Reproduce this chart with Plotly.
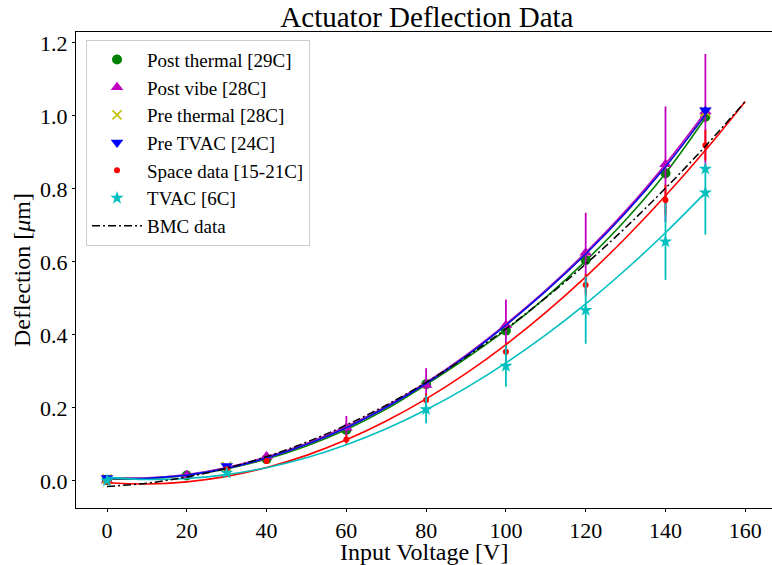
import plotly.graph_objects as go

# ---------------- data ----------------
# measured points
pt_x = [0, 20, 40, 60, 80, 100, 120, 140, 150]
pt_y = [0.003, 0.015, 0.060, 0.140, 0.265, 0.412, 0.605, 0.843, 0.998]
pt_err = [0.003, 0.004, 0.005, 0.006, 0.008, 0.010, 0.012, 0.015, 0.015]

pv_x = [0, 20, 40, 60, 80, 100, 120, 140, 150]
pv_y = [0.001, 0.016, 0.067, 0.146, 0.263, 0.427, 0.625, 0.868, 1.012]
pv_err = [0.003, 0.006, 0.012, 0.032, 0.046, 0.070, 0.110, 0.158, 0.158]

pth_x = [0, 30, 150]
pth_y = [0.006, 0.040, 1.012]
pth_err = [0.003, 0.004, 0.010]

ptv_x = [0, 30, 150]
ptv_y = [0.008, 0.041, 1.016]
ptv_err = [0.004, 0.005, 0.010]

sp_x = [0, 30, 40, 60, 80, 100, 120, 140, 150]
sp_y = [-0.002, 0.032, 0.055, 0.114, 0.222, 0.354, 0.537, 0.770, 0.920]
sp_err = [0.004, 0.006, 0.008, 0.012, 0.018, 0.025, 0.030, 0.042, 0.042]

tv_x = [0, 30, 80, 100, 120, 140, 150, 150]
tv_y = [0.001, 0.022, 0.196, 0.315, 0.468, 0.656, 0.855, 0.790]
tv_err_plus = [0.003, 0.006, 0.038, 0.057, 0.092, 0.105, 0.0, 0.070]
tv_err_minus = [0.003, 0.006, 0.038, 0.057, 0.092, 0.105, 0.0, 0.115]

# fitted curves
fit_x = [0, 10, 20, 30, 40, 50, 60, 70, 80, 90, 100, 110, 120, 130, 140, 150]
fit_x160 = fit_x + [160]
fit_pt = [0.005, 0.006, 0.015, 0.033, 0.060, 0.096, 0.141, 0.197, 0.264,
          0.336, 0.414, 0.503, 0.603, 0.715, 0.843, 0.995]
fit_pv = [0.008, 0.009, 0.018, 0.037, 0.066, 0.103, 0.149, 0.205, 0.270,
          0.345, 0.430, 0.523, 0.626, 0.740, 0.868, 1.010]
fit_pth = [0.007, 0.0075, 0.016, 0.0345, 0.063, 0.100, 0.146, 0.202, 0.267,
           0.342, 0.427, 0.520, 0.622, 0.735, 0.861, 1.003]
fit_ptv = [0.007, 0.0075, 0.016, 0.0345, 0.063, 0.100, 0.146, 0.202, 0.267,
           0.342, 0.427, 0.520, 0.622, 0.735, 0.861, 1.003]
fit_sp = [-0.005, -0.0082, -0.0023, 0.0127, 0.0369, 0.0702, 0.1127, 0.1643, 0.225,
          0.2949, 0.3739, 0.4621, 0.5594, 0.6658, 0.7814, 0.9061, 1.040]
fit_tv = [0.010, 0.0042, 0.0067, 0.0175, 0.0365, 0.0637, 0.0992, 0.143, 0.195,
          0.2552, 0.3237, 0.4004, 0.4854, 0.5787, 0.6802, 0.7899]
bmc_y = [-0.015, -0.0059, 0.0108, 0.035, 0.0669, 0.1063, 0.1533, 0.2078, 0.270,
         0.3397, 0.417, 0.5019, 0.5943, 0.6944, 0.802, 0.9172, 1.040]

x_ticks = [0, 20, 40, 60, 80, 100, 120, 140, 160]
y_ticks = [0.0, 0.2, 0.4, 0.6, 0.8, 1.0, 1.2]

GREEN, MAG, YEL, BLUE, RED, CYAN = "#008000", "#bf00bf", "#bfbf00", "#0000ff", "#ff0000", "#00bfbf"
FONT = "Liberation Serif, Times New Roman, serif"

fig = go.Figure()


def add_series(name, x, y, ep, em, color, symbol, size, fx, fy, lw_marker=0):
    fig.add_trace(go.Scatter(
        x=fx, y=fy, mode="lines", line=dict(color=color, width=1.6, shape="spline", smoothing=1.0),
        showlegend=False, hoverinfo="skip"))
    mk = dict(color=color, symbol=symbol, size=size)
    if lw_marker:
        mk["line"] = dict(color=color, width=lw_marker)
    fig.add_trace(go.Scatter(
        x=x, y=y, mode="markers", name=name, marker=mk,
        error_y=dict(type="data", array=ep, arrayminus=em, symmetric=False,
                     color=color, thickness=1.8, width=0)))


add_series("Post thermal [29C]", pt_x, pt_y, pt_err, pt_err, GREEN, "circle", 10, fit_x, fit_pt)
add_series("Post vibe [28C]", pv_x, pv_y, pv_err, pv_err, MAG, "triangle-up", 11, fit_x, fit_pv)
add_series("Pre thermal [28C]", pth_x, pth_y, pth_err, pth_err, YEL, "x-thin", 9, fit_x, fit_pth, 1.5)
add_series("Pre TVAC [24C]", ptv_x, ptv_y, ptv_err, ptv_err, BLUE, "triangle-down", 11, fit_x, fit_ptv)
add_series("Space data [15-21C]", sp_x, sp_y, sp_err, sp_err, RED, "circle", 6, fit_x160, fit_sp)
add_series("TVAC [6C]", tv_x, tv_y, tv_err_plus, tv_err_minus, CYAN, "star", 10, fit_x, fit_tv)

fig.add_trace(go.Scatter(
    x=fit_x160, y=bmc_y, mode="lines", name="BMC data",
    line=dict(color="black", width=1.5, dash="8px,3px,2px,3px", shape="spline", smoothing=1.0)))

axis_common = dict(
    showgrid=False, zeroline=False, showline=True, linecolor="black", linewidth=1,
    ticks="outside", ticklen=3, tickwidth=1, tickcolor="black", automargin=False,
    tickfont=dict(family=FONT, size=22, color="black"),
)

fig.update_layout(
    width=772, height=565,
    margin=dict(l=76, r=0, t=32, b=57),
    paper_bgcolor="white", plot_bgcolor="white",
    font=dict(family=FONT, color="black"),
    title=dict(text="Actuator Deflection Data", x=0.553, xanchor="center",
               y=0.971, yref="container", yanchor="middle",
               font=dict(family=FONT, size=29, color="black")),
    xaxis=dict(range=[-7.77, 166.7], tickvals=x_ticks, mirror=True, **axis_common),
    yaxis=dict(range=[-0.074, 1.2301], tickvals=y_ticks, tickformat=".1f", mirror=False,
               title=dict(text="Deflection [<i>μ</i>m]", font=dict(family=FONT, size=24), standoff=2),
               **axis_common),
    legend=dict(x=0.0144, y=0.984, xanchor="left", yanchor="top", itemwidth=50,
                bgcolor="rgba(255,255,255,0.8)", bordercolor="#cccccc", borderwidth=1,
                font=dict(family=FONT, size=19, color="black"), tracegroupgap=0),
    showlegend=True,
    annotations=[dict(text="Input Voltage [V]", xref="paper", yref="paper",
                      x=0.5, y=-0.092, xanchor="center", yanchor="middle", showarrow=False,
                      font=dict(family=FONT, size=24, color="black"))],
)

fig.write_html("out.html")
